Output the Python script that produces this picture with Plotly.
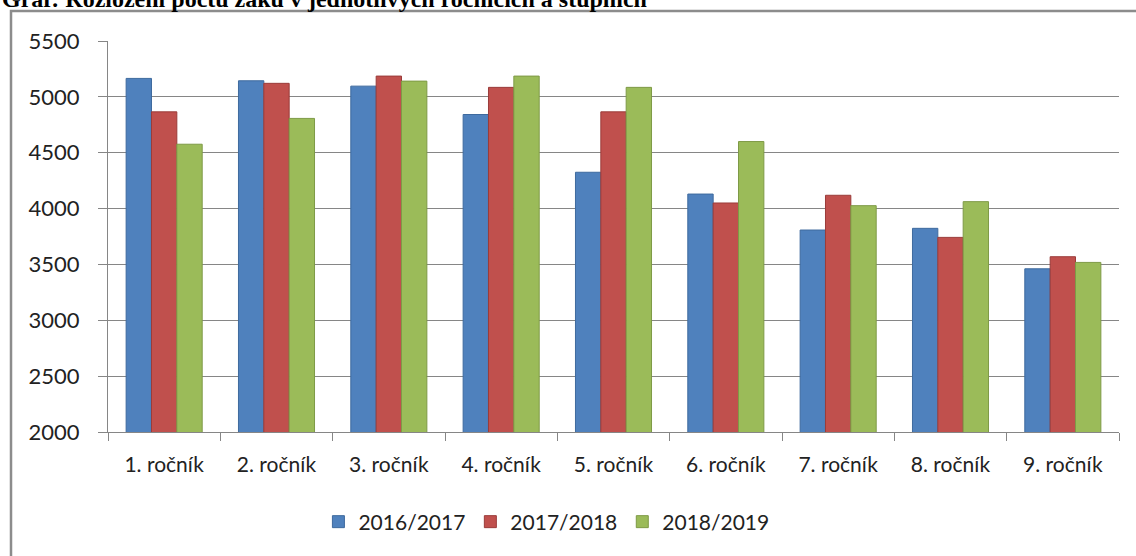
import plotly.graph_objects as go

categories = ["1. ročník", "2. ročník", "3. ročník", "4. ročník", "5. ročník",
              "6. ročník", "7. ročník", "8. ročník", "9. ročník"]
series_names = ["2016/2017", "2017/2018", "2018/2019"]
values_2016 = [5165, 5144, 5096, 4842, 4325, 4130, 3808, 3823, 3461]
values_2017 = [4866, 5121, 5186, 5085, 4866, 4050, 4119, 3742, 3569]
values_2018 = [4576, 4807, 5141, 5186, 5085, 4600, 4026, 4062, 3518]
y_ticks = [2000, 2500, 3000, 3500, 4000, 4500, 5000, 5500]
title_text = "Graf: Rozložení počtu žáků v jednotlivých ročnících a stupních"

fills = ["#4F81BD", "#C0504D", "#9BBB59"]
outlines = ["#3E6A9E", "#9A3C3A", "#7E9A46"]

W, H = 1136, 556
L, R, T, B = 108, 17, 41, 124

fig = go.Figure()
for name, vals, fc, lc in zip(series_names, [values_2016, values_2017, values_2018], fills, outlines):
    fig.add_trace(go.Bar(x=categories, y=vals, name=name,
                         marker=dict(color=fc, line=dict(color=lc, width=1))))

font_fam = "Lato, 'Open Sans', sans-serif"
axis_col = "#868686"

pw = W - L - R
ph = H - T - B
def px2paper_x(px):
    return (px - L) / pw
def px2paper_y(py):
    return (H - B - py) / ph

fig.update_layout(
    width=W, height=H,
    margin=dict(l=L, r=R, t=T, b=B, pad=0, autoexpand=False),
    paper_bgcolor="white", plot_bgcolor="white",
    barmode="group", bargap=0.323, bargroupgap=0,
    font=dict(family=font_fam, size=21, color="#222222"),
    showlegend=True,
    legend=dict(orientation="h", xref="container", x=0.481, xanchor="center",
                yref="container", y=(H - 522) / H, yanchor="middle",
                font=dict(size=21, color="#222222"), itemwidth=30,
                traceorder="normal", bgcolor="rgba(0,0,0,0)"),
    xaxis=dict(type="category", showgrid=False, showline=True, linecolor=axis_col,
               linewidth=1, ticks="outside", tickson="boundaries", ticklen=8,
               tickcolor=axis_col, tickwidth=1, ticklabelstandoff=14,
               tickfont=dict(size=21), automargin=False),
    yaxis=dict(range=[2000, 5500], tickvals=y_ticks, showgrid=True, gridcolor=axis_col,
               gridwidth=1, showline=True, linecolor=axis_col, linewidth=1,
               ticks="outside", ticklen=9, tickcolor=axis_col, tickwidth=1,
               ticklabelstandoff=14, zeroline=False, tickfont=dict(size=22),
               automargin=False),
    shapes=[dict(type="rect", xref="paper", yref="paper",
                 x0=px2paper_x(11), x1=px2paper_x(1145),
                 y0=px2paper_y(570), y1=px2paper_y(11),
                 line=dict(color="#8C8C8C", width=2.5), fillcolor="rgba(0,0,0,0)",
                 layer="below")],
    annotations=[dict(text="<b>" + title_text + "</b>", xref="paper", yref="paper",
                      x=px2paper_x(0), xanchor="left", y=px2paper_y(14), yanchor="bottom",
                      showarrow=False,
                      font=dict(family="'Liberation Serif', 'Times New Roman', serif",
                                size=24, color="#000000"))],
)

fig.write_html("out.html", config={"displayModeBar": False},
               post_script="document.body.style.margin='0';document.body.style.padding='0';")
